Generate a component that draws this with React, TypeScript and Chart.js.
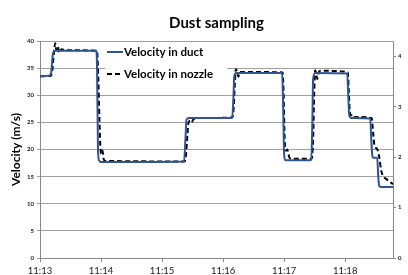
import { useEffect, useRef } from "react";
import { Chart, registerables } from "chart.js";

Chart.register(...registerables);

const timeTickLabels = ["11:13", "11:14", "11:15", "11:16", "11:17", "11:18"];

// seconds after 11:13:00
const ductSeconds = [0, 8.9, 10.8, 12.8, 14.8, 55.1, 56, 57, 58, 60, 141.6, 143, 144, 146.5, 188.9, 190, 191, 192.8, 238, 239, 240, 241.3, 266.6, 267.6, 268.5, 270.5, 302, 303, 304, 306, 324.6, 325.6, 326.6, 327.5, 331.5, 332.5, 333.4, 335.4, 347];
const ductVelocity = [33.5, 33.6, 34, 37.8, 38.2, 38.2, 36, 20, 18, 17.7, 17.8, 22, 25.5, 25.8, 25.8, 29, 33.5, 34.1, 34.1, 28, 19, 18, 18, 24, 33, 34.1, 34, 30, 26.3, 25.8, 25.7, 22, 19, 18.5, 18.5, 15, 13.3, 13.1, 13.1];

const nozzleSeconds = [0, 10.8, 12, 13.5, 15, 16, 17.5, 19, 21, 25, 56, 57, 58.5, 59.5, 60.5, 61.5, 62.5, 64, 142, 143.5, 145, 146, 148, 149, 151, 155, 189, 190.5, 191.5, 192.5, 193.5, 195, 196.5, 199, 238.5, 239.5, 240.5, 241.5, 243, 245, 247, 267, 268.5, 269.5, 270.5, 271.5, 272.5, 274, 276, 302.5, 303.5, 304.5, 306, 307, 309, 326, 327.5, 329, 331, 332, 334, 335, 337, 340, 343, 347];
const nozzleVelocity = [33.5, 33.6, 34.5, 37.5, 39.6, 38.3, 39, 37.8, 38.5, 38.3, 38.2, 35, 25, 20, 19.2, 19.8, 18.3, 17.9, 17.8, 19, 23, 25, 25.3, 25, 25.6, 25.8, 25.9, 28, 32, 34.8, 34.5, 33.4, 34.3, 34.3, 34.2, 30, 22, 19.8, 20, 18.6, 18.3, 18.3, 22, 30, 34.6, 34, 33, 34.3, 34.5, 34.3, 31, 27, 26.3, 26.5, 26, 25.8, 23, 20.5, 20.2, 19.8, 18, 16.5, 15.2, 14.6, 14.2, 13.6];

const seriesLabels = ["Velocity in duct", "Velocity in nozzle"];

const FONT = "Lato, 'Open Sans', sans-serif";

const legendPlugin = {
  id: "insideLegend",
  afterDatasetsDraw(chart: any) {
    const { ctx, chartArea } = chart;
    const x0 = chartArea.left + 67;
    const y0 = chartArea.top + 11;
    ctx.save();
    ctx.fillStyle = "#ffffff";
    ctx.fillRect(x0 - 2, y0 - 8, 122, 38);
    ctx.font = "bold 11.5px " + FONT;
    ctx.textBaseline = "middle";
    chart.data.datasets.forEach((ds: any, i: number) => {
      const y = y0 + i * 22;
      ctx.beginPath();
      ctx.strokeStyle = ds.borderColor;
      ctx.lineWidth = 2;
      ctx.setLineDash(ds.borderDash || []);
      ctx.moveTo(x0, y);
      ctx.lineTo(x0 + 16, y);
      ctx.stroke();
      ctx.setLineDash([]);
      ctx.fillStyle = "#000";
      ctx.fillText(ds.label, x0 + 17, y);
    });
    ctx.restore();
  },
};

export default function App() {
  const ref = useRef<HTMLCanvasElement>(null);
  useEffect(() => {
    if (!ref.current) return;
    const chart = new Chart(ref.current, {
      type: "line",
      data: {
        datasets: [
          {
            label: seriesLabels[0],
            data: ductSeconds.map((s, i) => ({ x: s, y: ductVelocity[i] })),
            borderColor: "#2E5592",
            borderWidth: 2,
            pointRadius: 0,
            fill: false,
            cubicInterpolationMode: "monotone",
            yAxisID: "y",
          },
          {
            label: seriesLabels[1],
            data: nozzleSeconds.map((s, i) => ({ x: s, y: nozzleVelocity[i] })),
            borderColor: "#000000",
            borderWidth: 2,
            borderDash: [5, 3],
            pointRadius: 0,
            fill: false,
            cubicInterpolationMode: "monotone",
            yAxisID: "y",
          },
        ],
      },
      options: {
        animation: false,
        responsive: false,
        maintainAspectRatio: false,
        layout: { padding: 0 },
        plugins: {
          legend: { display: false },
          tooltip: { enabled: false },
          title: {
            display: true,
            text: "Dust sampling",
            fullSize: false,
            color: "#000",
            font: { family: FONT, size: 15, weight: "bold", lineHeight: 1.2 },
            padding: { top: 14, bottom: 9 },
          },
        },
        scales: {
          x: {
            type: "linear",
            min: 0,
            max: 347,
            afterFit: (s: any) => { s.height = 17; },
            grid: { drawOnChartArea: false, drawTicks: true, tickLength: 4, color: "#888" },
            border: { color: "#888" },
            ticks: {
              stepSize: 60,
              includeBounds: false,
              maxRotation: 0,
              autoSkip: false,
              padding: 3,
              color: "#222",
              font: { family: FONT, size: 9.5 },
              callback: (v: any) => timeTickLabels[Math.round(Number(v) / 60)] ?? "",
            },
          },
          y: {
            position: "left",
            min: 0,
            max: 40,
            afterFit: (s: any) => { s.width = 40; },
            grid: { color: "#a0a0a0", tickLength: 3, lineWidth: 1 },
            border: { color: "#888" },
            ticks: { stepSize: 5, padding: 3, color: "#222", font: { family: FONT, size: 6, weight: "bold" } },
            title: {
              display: true,
              text: "Velocity (m/s)",
              color: "#000",
              font: { family: FONT, size: 12, weight: "bold" },
              padding: { top: 9, bottom: 0 },
            },
          },
          y2: {
            position: "right",
            min: 0,
            max: 4.3,
            afterFit: (s: any) => { s.width = 15; },
            grid: { drawOnChartArea: false, tickLength: 3, color: "#888" },
            border: { color: "#888" },
            ticks: { stepSize: 1, includeBounds: false, padding: 2, color: "#222", font: { family: FONT, size: 6, weight: "bold" } },
          },
        },
      },
      plugins: [legendPlugin],
    } as any);
    return () => chart.destroy();
  }, []);
  return (
    <div style={{ position: "fixed", left: 0, top: 0, width: 408, height: 275, background: "#fff" }}>
      <canvas ref={ref} width={408} height={275} style={{ width: 408, height: 275 }} />
    </div>
  );
}
